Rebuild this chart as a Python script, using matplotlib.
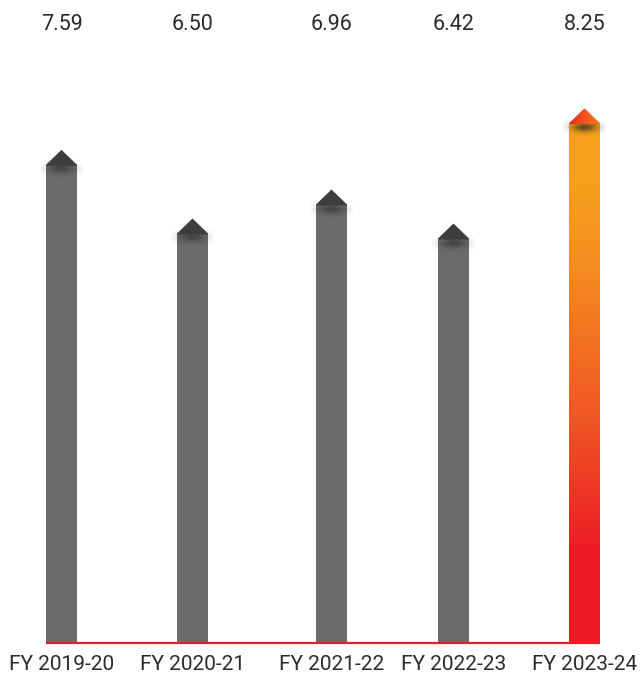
import numpy as np
import matplotlib
matplotlib.use("Agg")
import matplotlib.pyplot as plt
from matplotlib.patches import Polygon, Rectangle
from matplotlib.colors import LinearSegmentedColormap

categories = ["FY 2019-20", "FY 2020-21", "FY 2021-22", "FY 2022-23", "FY 2023-24"]
values = [7.59, 6.50, 6.96, 6.42, 8.25]
value_labels = ["7.59", "6.50", "6.96", "6.42", "8.25"]

# layout (pixel-like x positions of bar centres)
xpos = [61.5, 192.5, 331.5, 453.5, 584.5]
bar_w = 31
ppu = 63.0  # pixels per unit
W, H = 642, 677
base_px = 643

fig = plt.figure(figsize=(W / 100, H / 100), dpi=100)
ax = fig.add_axes([0, 0, 1, 1])
ax.set_xlim(0, W)
ax.set_ylim(-(H - base_px) / ppu, base_px / ppu)
ax.axis("off")

tip_h = 15 / ppu
ov = 1 / ppu
gray = "#6b6b6d"
tip_gray = "#3d3d3f"
grad_cmap = LinearSegmentedColormap.from_list(
    "g", [(0, "#ed1c24"), (0.18, "#ed1c24"), (0.45, "#f15a24"),
          (0.75, "#f5901f"), (0.9, "#f7a01d"), (1, "#f8a01b")])
tip_cmap = LinearSegmentedColormap.from_list("t", ["#ee2a24", "#f47a20"])

for i, (x, v) in enumerate(zip(xpos, values)):
    x0 = x - bar_w / 2
    x1 = x + bar_w / 2
    last = i == len(values) - 1
    if last:
        rect = Rectangle((x0, 0), bar_w, v, facecolor="none", edgecolor="none")
        ax.add_patch(rect)
        grad = np.linspace(0, 1, 256).reshape(-1, 1)
        im = ax.imshow(grad, cmap=grad_cmap, origin="lower", aspect="auto",
                       extent=(x0, x1, 0, v), zorder=2)
        im.set_clip_path(rect)
        tri = Polygon([(x0, v - ov), (x0, v), (x, v + tip_h), (x1, v), (x1, v - ov)], closed=True,
                      facecolor="none", edgecolor="none")
        ax.add_patch(tri)
        tg = np.linspace(0, 1, 64).reshape(1, -1)
        im2 = ax.imshow(tg, cmap=tip_cmap, origin="lower", aspect="auto",
                        extent=(x0, x1, v - ov, v + tip_h), zorder=3)
        im2.set_clip_path(tri)
        sh_alpha = 0.7
    else:
        ax.add_patch(Rectangle((x0, 0), bar_w, v, facecolor=gray, edgecolor="none", zorder=2))
        ax.add_patch(Polygon([(x0, v - ov), (x0, v), (x, v + tip_h), (x1, v), (x1, v - ov)],
                             closed=True, facecolor=tip_gray, edgecolor="none", zorder=3))
        sh_alpha = 0.55
    # soft shadow under the tip
    ny, nx = 60, 80
    yy = np.linspace(-1, 1, ny).reshape(-1, 1)
    xx = np.linspace(-1, 1, nx).reshape(1, -1)
    alpha = np.exp(-(yy / 0.5) ** 2) * np.exp(-(xx / 0.6) ** 2) * sh_alpha
    rgba = np.zeros((ny, nx, 4))
    rgba[..., :3] = 0.15
    rgba[..., 3] = alpha
    ax.imshow(rgba, origin="lower", aspect="auto",
              extent=(x0 - 6, x1 + 6, v - 14 / ppu, v + 6 / ppu), zorder=2.5)
    ax.text(x, (base_px - 25) / ppu, value_labels[i], ha="center", va="center",
            fontsize=15.5, family=["Roboto", "DejaVu Sans"], color="#2b2b2b")
    ax.text(x, -(665 - base_px) / ppu, categories[i], ha="center", va="center",
            fontsize=15, family=["Roboto", "DejaVu Sans"], color="#2b2b2b")

ax.plot([xpos[0] - bar_w / 2, xpos[-1] + bar_w / 2], [0, 0], color="#ed1c24", lw=1.6,
        solid_capstyle="butt", zorder=4)

fig.savefig("out.png", dpi=100)
